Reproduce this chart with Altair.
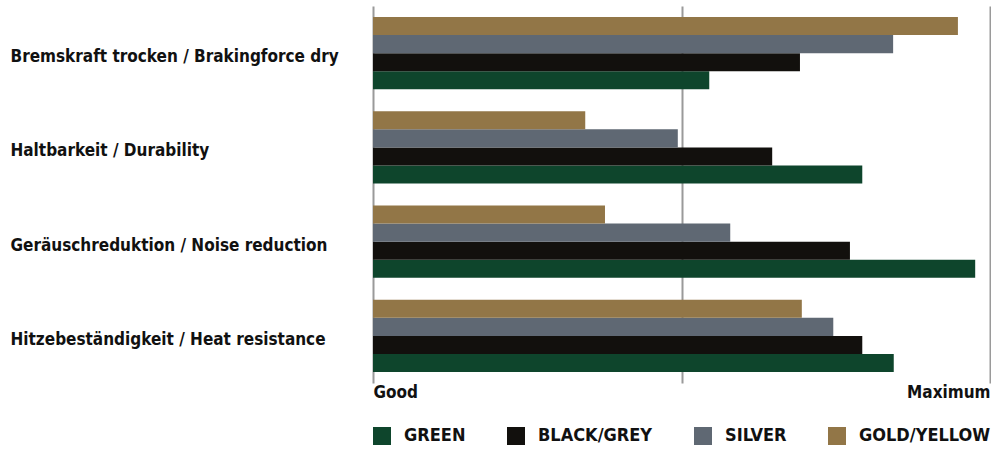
import altair as alt
import pandas as pd

categories = [
    "Bremskraft trocken / Brakingforce dry",
    "Haltbarkeit / Durability",
    "Geräuschreduktion / Noise reduction",
    "Hitzebeständigkeit / Heat resistance",
]
series = ["GREEN", "BLACK/GREY", "SILVER", "GOLD/YELLOW"]
green = [54.5, 79.3, 97.6, 84.4]
black = [69.2, 64.7, 77.3, 79.3]
silver = [84.3, 49.4, 57.9, 74.6]
gold = [94.8, 34.4, 37.6, 69.5]
colors = ["#0e452c", "#12100d", "#5f6873", "#927647"]

values = {"GREEN": green, "BLACK/GREY": black, "SILVER": silver, "GOLD/YELLOW": gold}
rows = []
for s in series:
    for c, v in zip(categories, values[s]):
        rows.append({"category": c, "series": s, "value": v})
df = pd.DataFrame(rows)

FONT = "DejaVu Sans Condensed"

chart = alt.Chart(df).mark_bar().encode(
    x=alt.X(
        "value:Q",
        scale=alt.Scale(domain=[0, 100]),
        axis=alt.Axis(
            values=[0, 50, 100],
            labelExpr="datum.value == 0 ? 'Good' : (datum.value == 100 ? 'Maximum' : '')",
            labelFlush=True,
            grid=True,
            gridColor="#9a9a9a",
            gridWidth=2,
            domain=False,
            ticks=False,
            title=None,
            labelFont=FONT,
            labelFontSize=17,
            labelFontWeight="bold",
            labelColor="#111111",
            labelPadding=1,
        ),
    ),
    y=alt.Y(
        "category:N",
        sort=categories,
        scale=alt.Scale(paddingInner=0.236, paddingOuter=0.118),
        axis=alt.Axis(
            title=None,
            labelAlign="left",
            labelPadding=363,
            labelOffset=4,
            ticks=False,
            domain=False,
            grid=False,
            labelFont=FONT,
            labelFontSize=17,
            labelFontWeight="bold",
            labelColor="#111111",
            labelLimit=400,
        ),
    ),
    yOffset=alt.YOffset(
        "series:N",
        sort=["GOLD/YELLOW", "SILVER", "BLACK/GREY", "GREEN"],
        scale=alt.Scale(paddingInner=0, paddingOuter=0),
    ),
    color=alt.Color(
        "series:N",
        scale=alt.Scale(domain=series, range=colors),
        legend=alt.Legend(
            title=None,
            orient="none",
            legendX=0,
            legendY=421,
            direction="horizontal",
            symbolType="square",
            symbolSize=324,
            symbolStrokeWidth=0,
            symbolOpacity=1,
            labelFont=FONT,
            labelFontSize=18,
            labelFontWeight="bold",
            labelColor="#111111",
            labelOffset=13,
            columnPadding=41,
            padding=0,
        ),
    ),
).properties(
    width=617,
    height=377,
    padding={"left": 10, "top": 6, "right": 0, "bottom": 0},
).configure_view(strokeWidth=0)

chart.save("out.html", embed_options={"renderer": "svg", "actions": False})
